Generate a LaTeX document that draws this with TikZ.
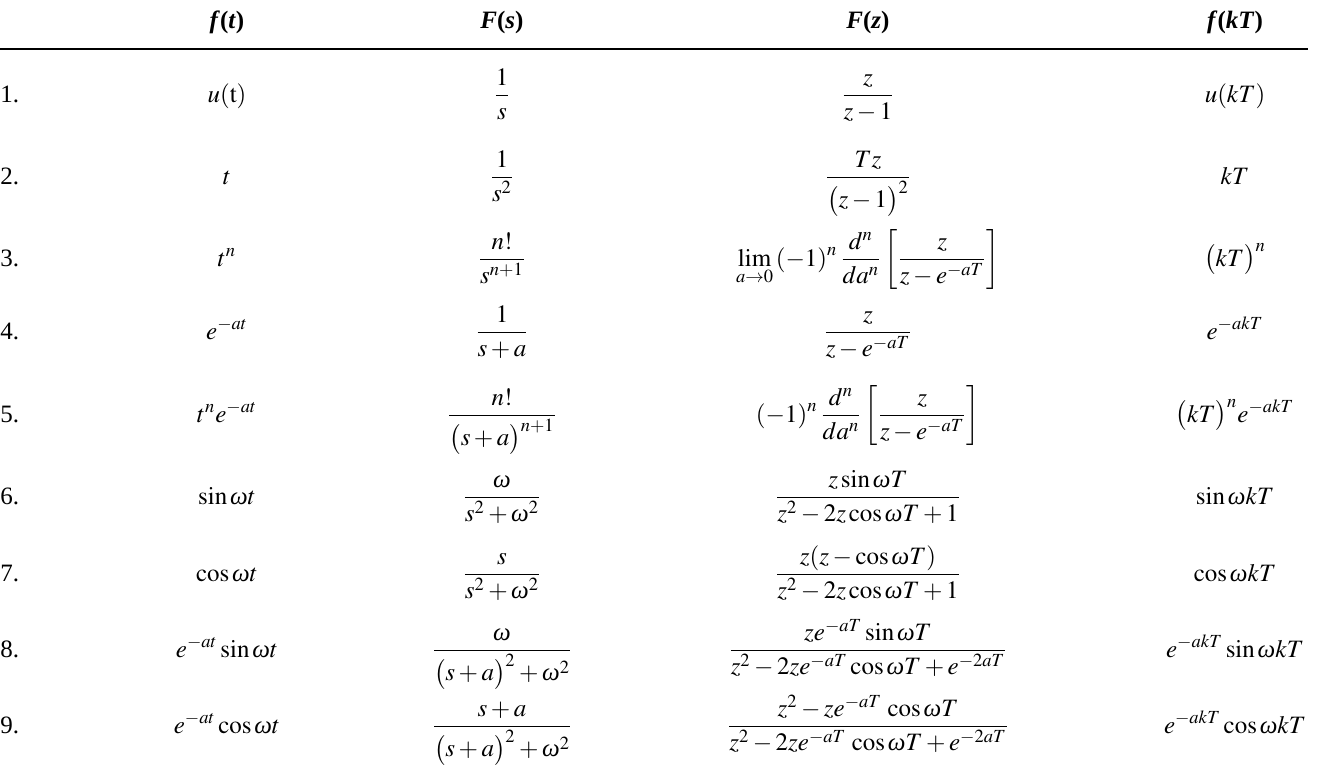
\documentclass[tikz,border=0pt]{standalone}
\usepackage{mathptmx}
\usepackage[no-math]{fontspec}
\setmainfont{Liberation Serif}
\usepackage{amsmath}
\newcommand{\omg}{\text{\normalfont\itshape ω}}

\begin{document}
\begin{tikzpicture}[x=0.5pt,y=-0.5pt,
    cell/.style={anchor=base, inner sep=0pt, font=\fontsize{12.5}{15}\selectfont\rmfamily},
    num/.style={anchor=base west, inner sep=0pt, font=\fontsize{12.5}{15}\selectfont\rmfamily},
    head/.style={anchor=base, inner sep=0pt, font=\fontsize{12.5}{15}\selectfont\rmfamily\bfseries}]
	\useasboundingbox (0,0) rectangle (1325,777);
	% header
	\node[head] (hft) at (227,28) {\textit{f}(\textit{t})};
	\node[head] (hFs) at (502,28) {\textit{F}(\textit{s})};
	\node[head] (hFz) at (868,28) {\textit{F}(\textit{z})};
	\node[head] (hfk) at (1235,28) {\textit{f}(\textit{kT})};
	\coordinate (rl) at (0,49);
	\coordinate (rr) at (1308,49);
	\draw [line width=1pt,black] (rl) -- (rr);
	% row numbers
	\begin{scope}[every node/.style={num}]
		\node (n1) at (0,102) {1.};
		\node (n2) at (0,184) {2.};
		\node (n3) at (0,266) {3.};
		\node (n4) at (0,339) {4.};
		\node (n5) at (0,422) {5.};
		\node (n6) at (0,504) {6.};
		\node (n7) at (0,581) {7.};
		\node (n8) at (0,657) {8.};
		\node (n9) at (0,733) {9.};
	\end{scope}
	% f(t)
	\begin{scope}[every node/.style={cell}]
		\node (ft1) at (227,102) {$u(\mathrm{t})$};
		\node (ft2) at (227,184) {$t$};
		\node (ft3) at (227,266) {$t^n$};
		\node (ft4) at (227,339) {$e^{-at}$};
		\node (ft5) at (227,422) {$t^ne^{-at}$};
		\node (ft6) at (227,504) {$\sin\omg t$};
		\node (ft7) at (227,581) {$\cos\omg t$};
		\node (ft8) at (227,657) {$e^{-at}\sin\omg t$};
		\node (ft9) at (227,733) {$e^{-at}\cos\omg t$};
	\end{scope}
	% F(s)
	\begin{scope}[every node/.style={cell}]
		\node (Fs1) at (502,102) {$\dfrac{1}{s}$};
		\node (Fs2) at (502,184) {$\dfrac{1}{s^2}$};
		\node (Fs3) at (502,266) {$\dfrac{n!}{s^{n+1}}$};
		\node (Fs4) at (502,339) {$\dfrac{1}{s+a}$};
		\node (Fs5) at (502,422) {$\dfrac{n!}{\bigl(s+a\bigr)^{n+1}}$};
		\node (Fs6) at (502,504) {$\dfrac{\omg}{s^2+\omg^2}$};
		\node (Fs7) at (502,581) {$\dfrac{s}{s^2+\omg^2}$};
		\node (Fs8) at (502,657) {$\dfrac{\omg}{\bigl(s+a\bigr)^2+\omg^2}$};
		\node (Fs9) at (502,733) {$\dfrac{s+a}{\bigl(s+a\bigr)^2+\omg^2}$};
	\end{scope}
	% F(z)
	\begin{scope}[every node/.style={cell}]
		\node (Fz1) at (868,102) {$\dfrac{z}{z-1}$};
		\node (Fz2) at (868,184) {$\dfrac{Tz}{\bigl(z-1\bigr)^2}$};
		\node (Fz3) at (868,266) {$\displaystyle\lim_{a\to0}\,(-1)^n\,\frac{d^n}{da^n}\left[\frac{z}{z-e^{-aT}}\right]$};
		\node (Fz4) at (868,339) {$\dfrac{z}{z-e^{-aT}}$};
		\node (Fz5) at (868,422) {$\displaystyle(-1)^n\,\frac{d^n}{da^n}\left[\frac{z}{z-e^{-aT}}\right]$};
		\node (Fz6) at (868,504) {$\dfrac{z\sin\omg T}{z^2-2z\cos\omg T+1}$};
		\node (Fz7) at (868,581) {$\dfrac{z(z-\cos\omg T)}{z^2-2z\cos\omg T+1}$};
		\node (Fz8) at (868,657) {$\dfrac{ze^{-aT}\sin\omg T}{z^2-2ze^{-aT}\cos\omg T+e^{-2aT}}$};
		\node (Fz9) at (868,733) {$\dfrac{z^2-ze^{-aT}\,\cos\omg T}{z^2-2ze^{-aT}\,\cos\omg T+e^{-2aT}}$};
	\end{scope}
	% f(kT)
	\begin{scope}[every node/.style={cell}]
		\node (fk1) at (1235,102) {$u(kT)$};
		\node (fk2) at (1235,184) {$kT$};
		\node (fk3) at (1235,266) {$\bigl(kT\bigr)^n$};
		\node (fk4) at (1235,339) {$e^{-akT}$};
		\node (fk5) at (1235,422) {$\bigl(kT\bigr)^ne^{-akT}$};
		\node (fk6) at (1235,504) {$\sin\omg kT$};
		\node (fk7) at (1235,581) {$\cos\omg kT$};
		\node (fk8) at (1235,657) {$e^{-akT}\sin\omg kT$};
		\node (fk9) at (1235,733) {$e^{-akT}\cos\omg kT$};
	\end{scope}
\end{tikzpicture}
\end{document}
